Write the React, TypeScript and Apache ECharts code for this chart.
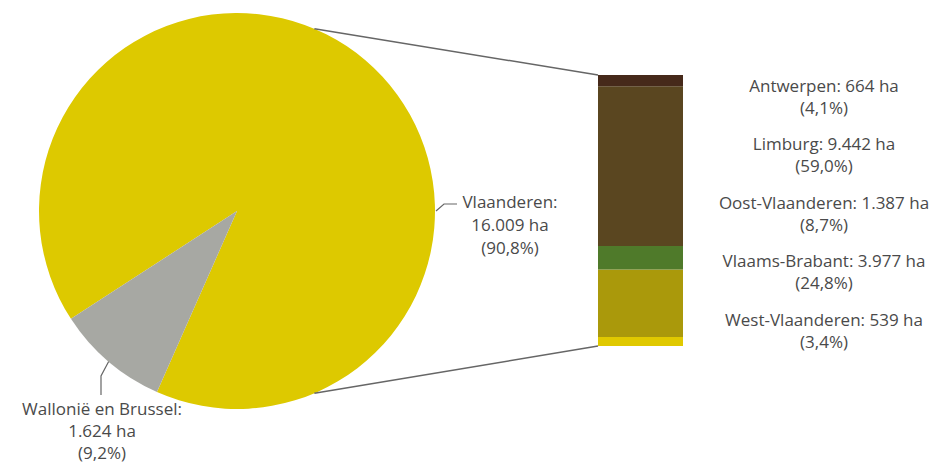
import React, { useEffect, useRef } from "react";
import * as echarts from "echarts";

// ---- data ----
const regions = ["Vlaanderen", "Wallonië en Brussel"];
const regionHa = [16009, 1624];
const regionColors = ["#DDC900", "#A7A8A3"];

// Flemish provinces, listed top-to-bottom as in the bar
const provinces = ["Antwerpen", "Limburg", "Oost-Vlaanderen", "Vlaams-Brabant", "West-Vlaanderen"];
const provinceHa = [664, 9442, 1387, 3977, 539];
const provinceColors = ["#46291A", "#5A4620", "#4F7A2A", "#AA990B", "#E0C900"];

// ---- layout ----
const W = 931;
const H = 466;
const PIE_CX = 237;
const PIE_CY = 211;
const PIE_R = 198;
const BAR_LEFT = 598;
const BAR_TOP = 75;
const BAR_W = 85;
const BAR_H = 271;
const FONT = "'Open Sans', 'Noto Sans', sans-serif";
const TEXT = "#4a4a4a";

const fmtInt = (n: number) => String(n).replace(/\B(?=(\d{3})+(?!\d))/g, ".");
const fmtPct = (v: number, t: number) => (Math.round((v / t) * 1000) / 10).toFixed(1).replace(".", ",") + "%";

export default function App() {
  const ref = useRef<HTMLDivElement>(null);

  useEffect(() => {
    document.body.style.margin = "0";
    if (!ref.current) return;
    const chart = echarts.init(ref.current, null, { renderer: "svg" });
    const regionTotal = regionHa.reduce((a, b) => a + b, 0);
    const provTotal = provinceHa.reduce((a, b) => a + b, 0);

    const pieLabelPos = [
      { x: 510, y: 224, lh: 23, line: [[436, 211], [444, 204], [457, 204]] },
      { x: 102, y: 430, lh: 22, line: [[110, 359], [101, 376], [101, 395]] },
    ];

    const angle = (67 * Math.PI) / 180;
    const topPt = [PIE_CX + PIE_R * Math.cos(angle), PIE_CY - PIE_R * Math.sin(angle)];
    const botPt = [PIE_CX + PIE_R * Math.cos(angle), PIE_CY + PIE_R * Math.sin(angle)];

    // stacked bar: bottom-up order
    const order = provinces.map((_, i) => i).reverse();
    const barSeries = order.map((i) => ({
      type: "bar",
      name: provinces[i],
      stack: "prov",
      xAxisIndex: 0,
      yAxisIndex: 0,
      barWidth: "100%",
      data: [provinceHa[i]],
      itemStyle: { color: provinceColors[i], borderWidth: 0 },
      label: {
        show: true,
        position: "right",
        formatter: () => `${provinces[i]}: ${fmtInt(provinceHa[i])} ha\n(${fmtPct(provinceHa[i], provTotal)})`,
        fontFamily: FONT,
        fontSize: 17,
        lineHeight: 22,
        color: TEXT,
        align: "center",
        overflow: "none",
      },
      labelLayout: () => ({ x: 824, y: 96 + i * 58.5, align: "center", verticalAlign: "middle" }),
      emphasis: { disabled: true },
    }));

    chart.setOption({
      animation: false,
      backgroundColor: "#ffffff",
      grid: { left: BAR_LEFT, top: BAR_TOP, width: BAR_W, height: BAR_H },
      xAxis: { type: "category", data: ["Vlaanderen"], show: false },
      yAxis: { type: "value", min: 0, max: provTotal, show: false },
      graphic: [
        {
          type: "line",
          shape: { x1: topPt[0], y1: topPt[1], x2: BAR_LEFT, y2: BAR_TOP },
          style: { stroke: "#666", lineWidth: 1.5 },
          z: 10,
        },
        {
          type: "line",
          shape: { x1: botPt[0], y1: botPt[1], x2: BAR_LEFT, y2: BAR_TOP + BAR_H },
          style: { stroke: "#666", lineWidth: 1.5 },
          z: 10,
        },
      ],
      series: [
        {
          type: "pie",
          center: [PIE_CX, PIE_CY],
          radius: PIE_R,
          startAngle: 213,
          clockwise: true,
          itemStyle: { borderWidth: 0 },
          data: regions.map((name, i) => ({
            name,
            value: regionHa[i],
            itemStyle: { color: regionColors[i], borderWidth: 0 },
            label: { lineHeight: pieLabelPos[i].lh },
          })),
          label: {
            show: true,
            position: "outside",
            formatter: (p: any) =>
              `${p.name}:\n${fmtInt(p.value)} ha\n(${fmtPct(p.value, regionTotal)})`,
            fontFamily: FONT,
            fontSize: 17,
            lineHeight: 23,
            color: TEXT,
            align: "center",
            overflow: "none",
            width: 220,
          },
          labelLine: { show: true, lineStyle: { color: "#666", width: 1.2 } },
          labelLayout: (p: any) => {
            const l = pieLabelPos[p.dataIndex];
            return { x: l.x, y: l.y, align: "center", verticalAlign: "middle", labelLinePoints: l.line };
          },
          emphasis: { disabled: true },
        },
        ...barSeries,
      ],
    });
    return () => chart.dispose();
  }, []);

  return <div ref={ref} style={{ width: W, height: H }} />;
}
